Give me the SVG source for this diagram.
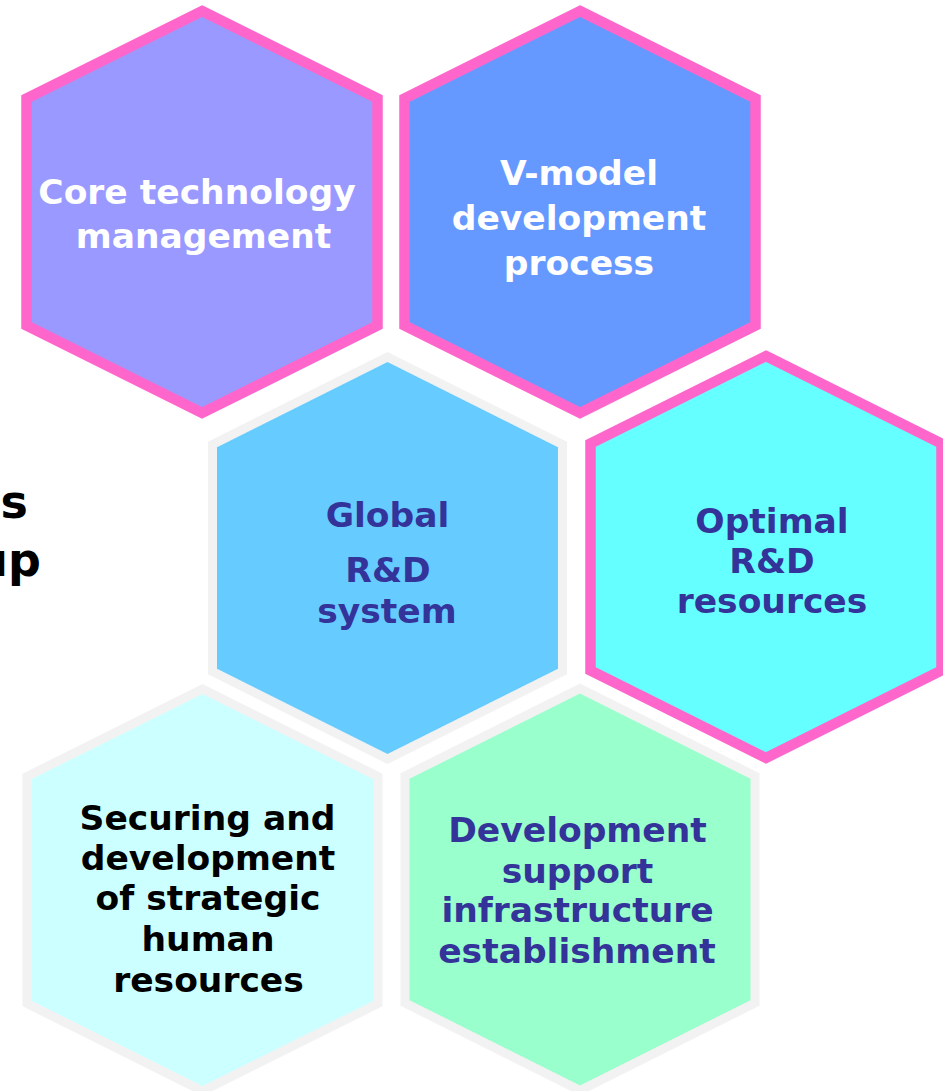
<svg xmlns="http://www.w3.org/2000/svg" width="943" height="1091" viewBox="0 0 943 1091">
<style>
.hex{stroke-linejoin:miter;}
.pink{stroke:#FF66CC;stroke-width:10.5;}
.gray{stroke:#F2F2F2;stroke-width:9;}
.t{font-family:"DejaVu Sans","Verdana",sans-serif;font-weight:bold;font-size:34.5px;text-anchor:middle;}
.w{fill:#FFFFFF;}
.b{fill:#333399;}
.k{fill:#000000;}
.side{font-family:"DejaVu Sans","Verdana",sans-serif;font-weight:bold;font-size:46px;fill:#000000;text-anchor:end;}
</style>
<rect width="943" height="1091" fill="#FFFFFF"/>
<g id="side-text">
<text class="side" x="28" y="518">s</text>
<text class="side" x="41" y="576">up</text>
</g>
<g id="connectors"></g>
<g id="core-technology">
<polygon class="hex pink" fill="#9999FF" points="202,11 377.5,98.5 377.5,325.5 202,413 26.5,325.5 26.5,98.5"/>
<text class="t w" x="197" y="204">Core technology</text>
<text class="t w" x="203.5" y="248">management</text>
</g>
<g id="v-model">
<polygon class="hex pink" fill="#6699FF" points="580,11 755.5,98.5 755.5,325.5 580,413 404.5,325.5 404.5,98.5"/>
<text class="t w" x="579" y="185">V-model</text>
<text class="t w" x="579" y="230">development</text>
<text class="t w" x="579" y="275">process</text>
</g>
<g id="global-rd">
<polygon class="hex gray" fill="#66CCFF" points="387.5,357 562.5,444.5 562.5,671.5 387.5,759 212.5,671.5 212.5,444.5"/>
<text class="t b" x="387.5" y="527">Global</text>
<text class="t b" x="388" y="582">R&amp;D</text>
<text class="t b" x="387" y="623">system</text>
</g>
<g id="optimal-rd">
<polygon class="hex pink" fill="#66FFFF" points="766,356 941.5,443.5 941.5,670.5 766,758 590.5,670.5 590.5,443.5"/>
<text class="t b" x="772" y="533">Optimal</text>
<text class="t b" x="772" y="573">R&amp;D</text>
<text class="t b" x="772" y="613">resources</text>
</g>
<g id="human-resources">
<polygon class="hex gray" fill="#CCFFFF" points="202.5,689 378,776.5 378,1003.5 202.5,1091 27,1003.5 27,776.5"/>
<text class="t k" x="207.5" y="830">Securing and</text>
<text class="t k" x="208" y="870">development</text>
<text class="t k" x="208" y="910">of strategic</text>
<text class="t k" x="208" y="951">human</text>
<text class="t k" x="208.5" y="992">resources</text>
</g>
<g id="dev-support">
<polygon class="hex gray" fill="#99FFCC" points="580,688.5 755,776 755,1003 580,1090.5 405,1003 405,776"/>
<text class="t b" x="577.5" y="842">Development</text>
<text class="t b" x="577.5" y="883">support</text>
<text class="t b" x="577.5" y="922">infrastructure</text>
<text class="t b" x="577" y="963">establishment</text>
</g>
</svg>
